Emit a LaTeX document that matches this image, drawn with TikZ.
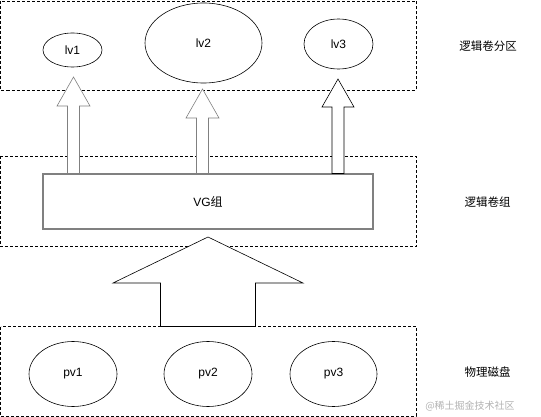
\documentclass[tikz,border=0pt]{standalone}
\usepackage{fontspec}
\setmainfont{Liberation Sans}
\newfontfamily\cjk{Noto Sans CJK SC}
\usetikzlibrary{shapes.geometric}

\begin{document}
\begin{tikzpicture}[x=1pt, y=-1pt, every node/.style={font=\fontsize{12}{14}\selectfont},
	layerbox/.style={draw, dashed, dash pattern=on 3pt off 2pt, line width=0.6pt},
	vol/.style={draw, ellipse, line width=0.6pt, inner sep=0pt},
	tag/.style={font=\cjk\fontsize{11.5}{13}\selectfont}]
	\useasboundingbox (0,0) rectangle (541,417);
	% the three dashed layers
	\draw[layerbox] (0.5,1) rectangle (416,90);
	\draw[layerbox] (0.5,156) rectangle (416,246.5);
	\draw[layerbox] (0.5,326.5) rectangle (416,416);
	% logical volumes
	\node[vol, minimum width=59pt, minimum height=34pt] (lv1) at (72.5,50) {lv1};
	\node[vol, minimum width=117pt, minimum height=80pt] (lv2) at (203.5,43) {lv2};
	\node[vol, minimum width=69pt, minimum height=50pt] (lv3) at (338.5,44) {lv3};
	% volume group
	\node[draw=gray, line width=1.2pt, minimum width=330pt, minimum height=55pt] (vg) at (208,201.5) {VG{\cjk 组}};
	% physical disks
	\node[vol, minimum width=88pt, minimum height=65pt] (pv1) at (73,374) {pv1};
	\node[vol, minimum width=88pt, minimum height=65pt] (pv2) at (208,374) {pv2};
	\node[vol, minimum width=87pt, minimum height=65pt] (pv3) at (333.5,374) {pv3};
	% block arrows: centre x, tip y, head base y, half head, half shaft, bottom y
	\foreach \cx/\tip/\hb/\hh/\hs/\bot/\col in {73.5/77/106/16.5/6/173.5/gray, 202.5/89/118/16.5/6/173.5/gray, 338/79/107/16/6/173.5/black, 208/237/283/95/47.5/326.5/black}
		\draw[line width=0.6pt, fill=white, draw=\col] (\cx,\tip) -- (\cx+\hh,\hb) -- (\cx+\hs,\hb) -- (\cx+\hs,\bot)
			-- (\cx-\hs,\bot) -- (\cx-\hs,\hb) -- (\cx-\hh,\hb) -- cycle;
	% layer captions
	\node[tag] (lvcap) at (488,46) {逻辑卷分区};
	\node[tag] (vgcap) at (487.5,202) {逻辑卷组};
	\node[tag] (pvcap) at (487.5,372) {物理磁盘};
	\node[tag, text=gray!60, font=\cjk\fontsize{10}{12}\selectfont] (mark) at (470,406) {@稀土掘金技术社区};
\end{tikzpicture}
\end{document}
